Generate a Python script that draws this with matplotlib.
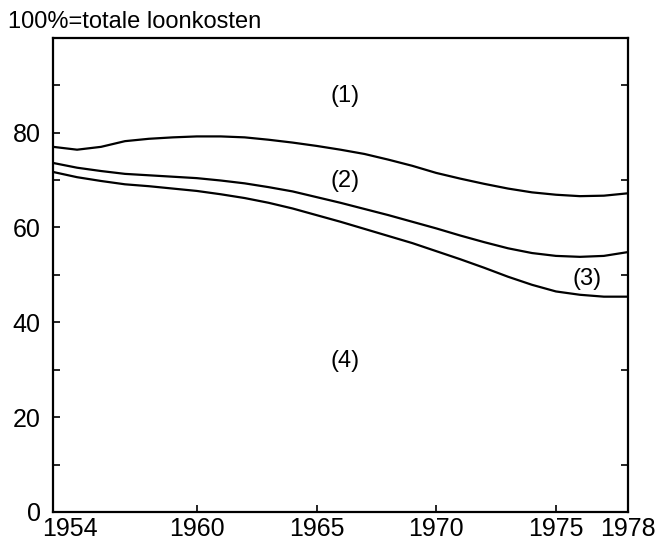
import matplotlib as mpl
import matplotlib.pyplot as plt
from matplotlib.transforms import ScaledTranslation

mpl.rcParams.update(
    {
        "font.family": ["Liberation Sans", "DejaVu Sans"],
        "font.size": 16,
        "axes.linewidth": 1.6,
    }
)

# values (% of total wage costs)
years = list(range(1954, 1979))
bound_12 = [77.0, 76.4, 77.0, 78.2, 78.7, 79.0, 79.2, 79.2, 79.0, 78.5, 77.9,
            77.2, 76.4, 75.5, 74.3, 73.0, 71.5, 70.3, 69.2, 68.2, 67.4, 66.9,
            66.6, 66.7, 67.2]
bound_23 = [73.6, 72.6, 71.9, 71.3, 71.0, 70.7, 70.4, 69.9, 69.3, 68.5, 67.6,
            66.4, 65.2, 63.9, 62.6, 61.2, 59.8, 58.3, 56.9, 55.6, 54.6, 54.0,
            53.8, 54.0, 54.8]
bound_34 = [71.7, 70.6, 69.8, 69.1, 68.7, 68.2, 67.7, 67.0, 66.2, 65.2, 64.0,
            62.6, 61.2, 59.7, 58.2, 56.7, 55.0, 53.3, 51.5, 49.6, 47.9, 46.5,
            45.8, 45.4, 45.4]

region_labels = ["(1)", "(2)", "(3)", "(4)"]
region_x = [1966.2, 1966.2, 1976.3, 1966.2]
region_y = [87.8, 69.8, 49.2, 31.9]

x_ticks = [1954, 1960, 1965, 1970, 1975, 1978]
y_ticks = [0, 20, 40, 60, 80]

fig = plt.figure(figsize=(6.56, 5.4), dpi=100)
ax = fig.add_axes([0.081, 0.052, 0.876, 0.878])

for b in (bound_12, bound_23, bound_34):
    ax.plot(years, b, color="black", lw=1.6, solid_capstyle="butt")

for lab, x, y in zip(region_labels, region_x, region_y):
    ax.text(x, y, lab, ha="center", va="center", fontsize=17)

ax.set_xlim(1954, 1978)
ax.set_ylim(0, 100)
ax.set_xticks(x_ticks)
ax.set_yticks(y_ticks)
ax.set_yticks(range(0, 101, 10), minor=True)
ax.set_xticks([1960, 1965, 1970, 1975], minor=True)
ax.tick_params(axis="both", which="major", direction="in", length=5, width=1.2,
               labelsize=18)
ax.tick_params(axis="both", which="minor", direction="in", length=5, width=1.2,
               top=True, right=True)
ax.tick_params(axis="y", which="major", pad=9)
ax.tick_params(axis="x", which="major", pad=4)

# first year label sits right of its tick, clear of the "0"
lbl = ax.get_xticklabels()[0]
lbl.set_transform(lbl.get_transform() + ScaledTranslation(17 / 100, 0, fig.dpi_scale_trans))

fig.text(8 / 656, 512 / 540, "100%=totale loonkosten", fontsize=17,
         ha="left", va="baseline")

fig.savefig("out.png", dpi=100, facecolor="white")
